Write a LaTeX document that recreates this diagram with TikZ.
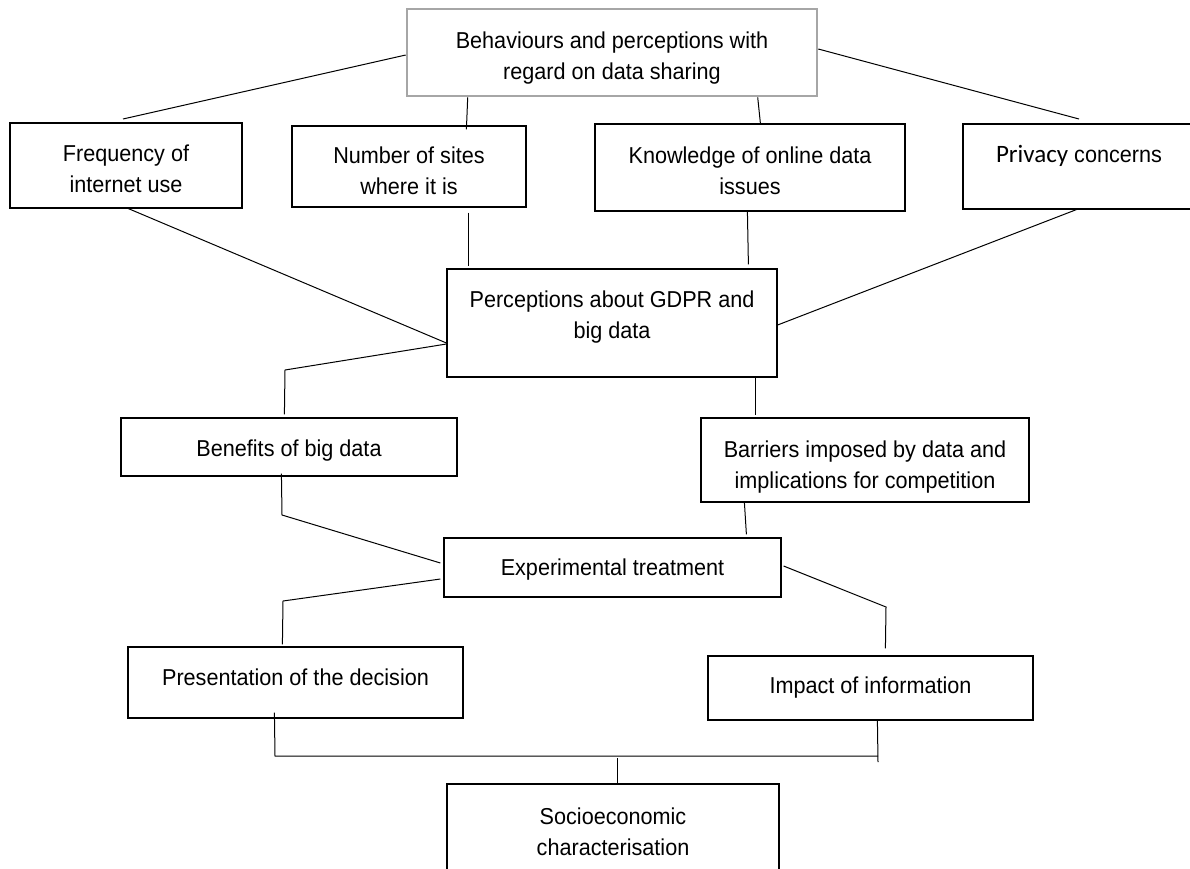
\documentclass[tikz,border=0pt]{standalone}
\usepackage{fontspec}
\setmainfont[FakeStretch=0.94]{Liberation Sans}
\newfontfamily\carl{Carlito}
\newcommand{\tp}[1]{\mbox{}\\[#1]}
\begin{document}
\begin{tikzpicture}[x=1pt,y=-1pt,
  boxstyle/.style={draw=black, line width=1.2pt, rectangle, inner sep=0pt, align=center,
    font=\fontsize{23}{31}\selectfont},
  topstyle/.style={boxstyle, draw=black!35, line width=2.6pt},
  conn/.style={draw=black, line width=1pt}]
\useasboundingbox (0,0) rectangle (1190,868);
\fill[white] (0,0) rectangle (1190,868);
\clip (0,0) rectangle (1190,868);

% boxes
\node[topstyle, minimum width=410pt, minimum height=87pt] (top) at (612,52.5)
  {\tp{-4pt}Behaviours and perceptions with\\regard on data sharing};
\node[boxstyle, minimum width=232pt, minimum height=85pt] (freq) at (126,165.5)
  {\tp{-7pt}Frequency of\\internet use};
\node[boxstyle, minimum width=234pt, minimum height=81pt] (num) at (409,166.5)
  {\tp{-6pt}Number of sites\\where it is};
\node[boxstyle, minimum width=310pt, minimum height=87pt] (know) at (750,167.5)
  {\tp{-7pt}Knowledge of online data\\issues};
\node[boxstyle, minimum width=232pt, minimum height=85pt] (priv) at (1079,166.5)
  {\tp{-8pt}{\carl\fontsize{25}{31}\selectfont Privacy} concerns\\\mbox{}};
\node[boxstyle, minimum width=330pt, minimum height=108pt] (perc) at (612,323)
  {\tp{-6pt}Perceptions about GDPR and\\big data\\[-6pt]\mbox{}};
\node[boxstyle, minimum width=336pt, minimum height=58pt] (ben) at (289,447)
  {\tp{-8pt}Benefits of big data};
\node[boxstyle, minimum width=328pt, minimum height=84pt] (bar) at (865,460)
  {\tp{0pt}Barriers imposed by data and\\implications for competition};
\node[boxstyle, minimum width=337pt, minimum height=59pt] (exp) at (612.5,567.5)
  {\tp{-10pt}Experimental treatment};
\node[boxstyle, minimum width=335pt, minimum height=71pt] (pres) at (295.5,682.5)
  {\tp{-5pt}Presentation of the decision\\[-11pt]\mbox{}};
\node[boxstyle, minimum width=325pt, minimum height=64pt] (imp) at (870.5,688)
  {Impact of information};
\node[boxstyle, minimum width=332pt, minimum height=100pt] (soc) at (613,834)
  {\tp{-4pt}Socioeconomic\\characterisation\\[-15pt]\mbox{}};

% free bend points
\coordinate (c1) at (123,119);
\coordinate (c2) at (1079,119);
\coordinate (c3) at (285,370);
\coordinate (c4) at (282,515);
\coordinate (c5) at (283,601);
\coordinate (c6) at (886,607);
\coordinate (c7) at (275,756);
\coordinate (c8) at (878,756);
\coordinate (c9) at (878,762);
\coordinate (c10) at (617,758);

% connectors, top level
\draw[conn] ([yshift=-2.5pt]top.west) -- (c1);
\draw[conn] ([xshift=62pt]top.south west) -- ([xshift=175pt,yshift=-4pt]num.north west);
\draw[conn] ([xshift=352pt]top.south west) -- ([xshift=166pt]know.north west);
\draw[conn] ([yshift=3.5pt]top.east) -- (c2);

% second level
\draw[conn] ([xshift=119pt]freq.south west) -- ([yshift=-20pt]perc.west);
\draw[conn] ([xshift=177pt,yshift=-5pt]num.south west) -- ([xshift=22pt,yshift=2pt]perc.north west);
\draw[conn] ([xshift=153pt]know.south west) -- ([xshift=302pt,yshift=4pt]perc.north west);
\draw[conn] ([xshift=114pt]priv.south west) -- ([yshift=-2pt]perc.east);

% third level
\draw[conn] ([yshift=-21pt]perc.west) -- (c3) -- ([xshift=164pt,yshift=3pt]ben.north west);
\draw[conn] ([xshift=309pt]perc.south west) -- ([xshift=55pt,yshift=2pt]bar.north west);

% to experimental treatment
\draw[conn] ([xshift=161pt,yshift=3pt]ben.south west) -- (c4) -- ([xshift=-3pt,yshift=4.5pt]exp.west);
\draw[conn] ([xshift=44pt]bar.south west) -- ([xshift=303pt,yshift=3pt]exp.north west);

% from experimental treatment
\draw[conn] ([xshift=-3pt,yshift=-11.5pt]exp.west) -- (c5) -- ([xshift=155pt,yshift=2pt]pres.north west);
\draw[conn] ([xshift=2pt,yshift=1.5pt]exp.east) -- (c6) -- ([xshift=178pt,yshift=7pt]imp.north west);

% bottom bracket
\draw[conn] ([xshift=147pt,yshift=6pt]pres.south west) -- (c7) -- (c8);
\draw[conn] ([xshift=170pt]imp.south west) -- (c9);
\draw[conn] (c10) -- ([xshift=4pt]soc.north);
\end{tikzpicture}
\end{document}
